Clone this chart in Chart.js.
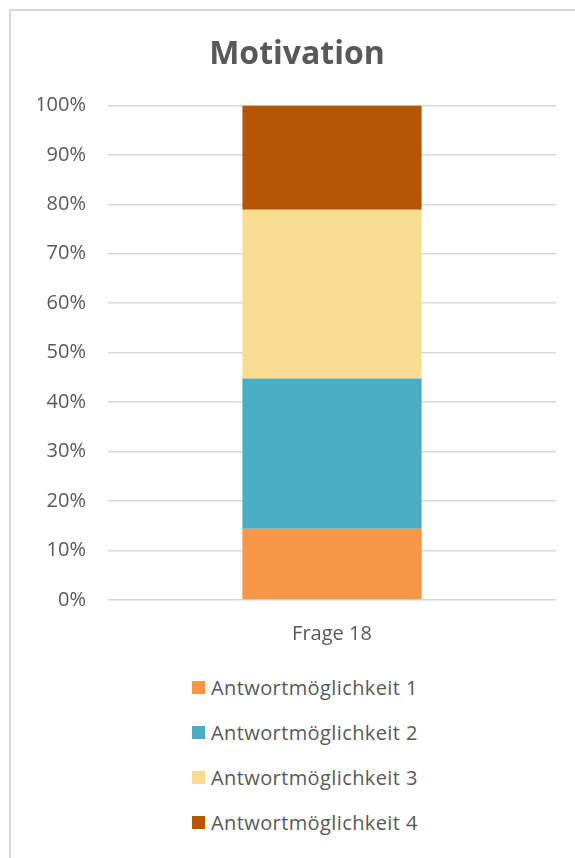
<!DOCTYPE html>
<html>
<head>
<meta charset="utf-8">
<script src="https://cdn.jsdelivr.net/npm/chart.js@4"></script>
<style>
    body { margin: 0; background: #ffffff; }
    #frame {
        position: absolute; left: 9px; top: 9px; width: 640px; height: 900px;
        border: 2px solid #d9d9d9; box-sizing: border-box;
    }
    #chartBox { position: absolute; left: 0; top: 0; width: 575px; height: 660px; }
    #legend {
        position: absolute; left: 192px; top: 665px;
        font-family: "Open Sans", sans-serif; font-size: 20px; color: #595959;
        letter-spacing: 0.4px;
    }
    .legend-row { height: 45px; display: flex; align-items: center; }
    .legend-box { width: 13px; height: 13px; margin-right: 6px; }
</style>
</head>
<body>
<div id="frame"></div>
<div id="chartBox"><canvas id="motivationChart"></canvas></div>
<div id="legend"></div>
<script>
var categories = ["Frage 18"];
var answerLabels = ["Antwortmöglichkeit 1", "Antwortmöglichkeit 2", "Antwortmöglichkeit 3", "Antwortmöglichkeit 4"];
var answer1 = [14.4];
var answer2 = [30.4];
var answer3 = [34.1];
var answer4 = [21.1];
var answerColors = ["#f79646", "#4bacc6", "#f8dc91", "#b55606"];
var yTicks = [0, 10, 20, 30, 40, 50, 60, 70, 80, 90, 100];

var textColor = "#595959";
var fontName = "'Open Sans', sans-serif";

var seriesValues = [answer1, answer2, answer3, answer4];
var datasets = [];
for (let i = 0; i < seriesValues.length; i++) {
    datasets.push({
        label: answerLabels[i],
        data: seriesValues[i],
        backgroundColor: answerColors[i],
        barPercentage: 0.4,
        categoryPercentage: 1.0
    });
}

var ctx = document.getElementById("motivationChart").getContext("2d");
var chart = new Chart(ctx, {
    type: "bar",
    data: {
        labels: categories,
        datasets: datasets
    },
    options: {
        responsive: true,
        maintainAspectRatio: false,
        animation: false,
        layout: { padding: { left: 38, right: 19, top: 0, bottom: 0 } },
        plugins: {
            legend: { display: false },
            tooltip: { enabled: false },
            title: {
                display: true,
                text: "Motivation",
                color: textColor,
                font: { family: fontName, size: 32, weight: "bold" },
                padding: { top: 36, bottom: 31 }
            }
        },
        scales: {
            x: {
                stacked: true,
                grid: { display: false },
                border: { display: false },
                ticks: {
                    color: textColor,
                    font: { family: fontName, size: 20 },
                    padding: 14
                }
            },
            y: {
                stacked: true,
                min: 0,
                max: 100,
                afterBuildTicks: function(axis) {
                    axis.ticks = yTicks.map(v => ({ value: v }));
                },
                afterFit: function(axis) {
                    axis.width = 70;
                },
                border: { display: false },
                grid: { color: "#d9d9d9", lineWidth: 1.5, drawTicks: false },
                ticks: {
                    color: textColor,
                    font: { family: fontName, size: 20 },
                    padding: 22,
                    callback: function(value) { return value + "%"; }
                }
            }
        }
    }
});

// legend list under the chart, one entry per line
var legendHtml = "";
for (let i = 0; i < chart.data.datasets.length; i++) {
    var ds = chart.data.datasets[i];
    legendHtml += "<div class='legend-row'><span class='legend-box' style='background:" + ds.backgroundColor + "'></span>" + ds.label + "</div>";
}
document.getElementById("legend").innerHTML = legendHtml;
</script>
</body>
</html>
